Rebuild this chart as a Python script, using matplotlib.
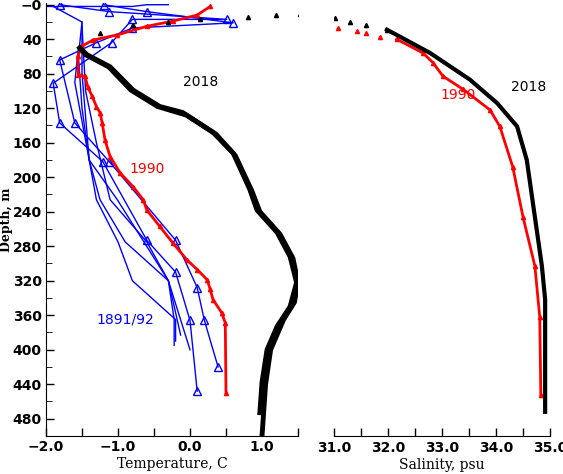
import matplotlib.pyplot as plt
import matplotlib.ticker as mt

# ---- 2018 temperature (two casts) ----
t18_surf = [1.53, 1.2, 0.8, 0.14, -0.3, -0.79, -1.25, -1.53]
d18_surf = [11, 12, 14, 17, 20, 23, 33, 50]
t18a = [-1.53, -1.43, -1.11, -0.79, -0.42, -0.10, 0.32, 0.60, 0.83, 0.93, 1.21, 1.39, 1.48, 1.39, 1.21, 1.07, 1.00, 0.97]
d18a = [50, 58, 72, 99, 118, 125, 148, 172, 214, 238, 264, 292, 322, 350, 373, 400, 438, 473]
t18b = [-1.53, -1.45, -1.13, -0.82, -0.45, -0.05, 0.36, 0.63, 0.86, 0.97, 1.25, 1.43, 1.50, 1.45, 1.30, 1.12, 1.05, 1.00]
d18b = [50, 58, 72, 99, 118, 128, 150, 175, 216, 240, 266, 294, 322, 345, 365, 400, 440, 500]

# ---- 1990 temperature ----
t90 = [0.28, 0.1, -0.24, -0.6, -1.01, -1.35, -1.5, -1.56, -1.55, -1.46, -1.42, -1.36, -1.3, -1.25, -1.22, -1.18, -1.11,
       -0.97, -0.79, -0.65, -0.6, -0.42, -0.24, -0.04, 0.1, 0.24, 0.28, 0.32, 0.44, 0.49, 0.5]
d90 = [2, 12, 19, 25, 35, 41, 48, 60, 81, 83, 95, 106, 118, 125, 137, 157, 176,
       195, 211, 226, 238, 257, 276, 296, 307, 319, 330, 342, 357, 369, 450]

# ---- 1891/92 temperature ----
m1_t = [-1.2, -0.6, 0.6, -0.8, -1.3, -1.81, -1.6, -1.12, -0.2, 0.1, 0.2, 0.39]
m1_d = [0, 8, 21, 27, 44, 64, 137, 182, 273, 328, 366, 420]
m2_t = [-1.81, -1.12, 0.51, -0.8, -1.09, -1.9, -1.81, -1.21, -0.6, -0.2, 0.0, 0.1]
m2_d = [0, 8, 17, 17, 44, 91, 137, 182, 273, 310, 366, 448]
m3_t = [-2.0, -0.8, -0.6, -0.3]
m3_d = [2, 2, 0, 0]
plain = [
    ([-1.9, -1.5, -1.55, -1.5, -1.4, -1.3, -1.0, -0.8, -0.2, -0.2], [2, 20, 60, 120, 180, 226, 275, 320, 365, 390]),
    ([-1.5, -1.5, -1.4, -1.25, -0.9, -0.3, -0.13], [20, 80, 180, 226, 275, 320, 383]),
    ([-1.5, -1.45, -1.3, -1.11, -0.6, -0.3, -0.22, -0.22], [25, 100, 160, 226, 275, 320, 365, 395]),
    ([-1.55, -1.6, -1.4, -1.01, -0.3, 0.0], [50, 90, 180, 226, 320, 400]),
]

# ---- salinity ----
s18_surf = [31.02, 31.3, 31.6, 31.98]
d18s_surf = [15, 20, 24, 29]
s18 = [31.98, 32.22, 32.78, 33.52, 34.02, 34.39, 34.57, 34.72, 34.85, 34.91, 34.91]
d18s = [29, 37, 56, 87, 114, 141, 180, 246, 303, 342, 472]
s90_surf = [31.07, 31.42, 31.6, 31.85]
d90s_surf = [27, 31, 33, 37]
s90 = [32.16, 32.65, 32.83, 33.02, 33.39, 33.89, 34.07, 34.31, 34.5, 34.72, 34.81, 34.83]
d90s = [40, 56, 67, 83, 98, 122, 141, 188, 246, 303, 362, 452]

fig = plt.figure(figsize=(5.63, 4.74), dpi=100)
ax1 = fig.add_axes([46 / 563, 1 - 436 / 474, 252 / 563, 433 / 474])
ax2 = fig.add_axes([334 / 563, 1 - 436 / 474, 216 / 563, 433 / 474])

# temperature panel
for t, d in plain:
    ax1.plot(t, d, color='blue', lw=1)
for t, d in [(m1_t, m1_d), (m2_t, m2_d)]:
    ax1.plot(t, d, color='blue', lw=1, marker='^', ms=6, mfc='none', mec='blue')
ax1.plot(m3_t, m3_d, color='blue', lw=1)
ax1.plot(t90, d90, color='red', lw=2, marker='^', ms=3, mec='red')
ax1.plot(t18_surf, d18_surf, 'k^', ms=3, ls='none')
ax1.plot(t18a, d18a, color='black', lw=3.5)
ax1.plot(t18b, d18b, color='black', lw=3.5)

ax1.set_xlim(-2.0, 1.5)
ax1.set_ylim(500, -2)
ax1.spines['top'].set_visible(False)
ax1.spines['right'].set_visible(False)
ax1.xaxis.set_major_locator(mt.MultipleLocator(0.5))
ax1.xaxis.set_major_formatter(mt.FuncFormatter(
    lambda v, p: ('%.1f' % v).replace('-', '\u2212') if abs(v - round(v)) < 1e-6 else ''))
ax1.yaxis.set_major_locator(mt.MultipleLocator(40))
ax1.yaxis.set_minor_locator(mt.MultipleLocator(20))
ax1.yaxis.set_major_formatter(mt.FuncFormatter(lambda v, p: '\u22120' if v == 0 else '%d' % v))
ax1.tick_params(direction='in', length=6, width=1, labelsize=10, pad=3)
ax1.tick_params(which='minor', direction='in', length=4)
for lab in ax1.get_xticklabels() + ax1.get_yticklabels():
    lab.set_fontweight('bold')
ax1.set_xlabel('Temperature, C', family='DejaVu Serif', fontsize=10, labelpad=2)
ax1.set_ylabel('Depth, m', family='DejaVu Serif', fontsize=9, fontweight='bold', labelpad=0)
ax1.text(0.15, 90, '2018', color='black', fontsize=10, ha='center', va='center')
ax1.text(-0.6, 190, '1990', color='red', fontsize=10, ha='center', va='center')
ax1.text(-0.9, 365, '1891/92', color='blue', fontsize=10, ha='center', va='center')

# salinity panel
ax2.plot(s90, d90s, color='red', lw=2, marker='^', ms=3, mec='red')
ax2.plot(s90_surf, d90s_surf, '^', color='red', ms=3, ls='none')
ax2.plot(s18_surf, d18s_surf, 'k^', ms=3, ls='none')
ax2.plot(s18, d18s, color='black', lw=3)
ax2.set_xlim(31.0, 35.0)
ax2.set_ylim(500, -2)
for sp in ['top', 'right', 'left']:
    ax2.spines[sp].set_visible(False)
ax2.set_yticks([])
ax2.xaxis.set_major_locator(mt.MultipleLocator(0.5))
ax2.xaxis.set_major_formatter(mt.FuncFormatter(
    lambda v, p: '%.1f' % v if abs(v - round(v)) < 1e-6 else ''))
ax2.tick_params(direction='in', length=6, width=1, labelsize=10)
for lab in ax2.get_xticklabels():
    lab.set_fontweight('bold')
ax2.set_xlabel('Salinity, psu', family='DejaVu Serif', fontsize=10, labelpad=2)
ax2.text(34.6, 95, '2018', color='black', fontsize=10, ha='center', va='center')
ax2.text(33.3, 105, '1990', color='red', fontsize=10, ha='center', va='center')

fig.savefig('out.png', dpi=100)
